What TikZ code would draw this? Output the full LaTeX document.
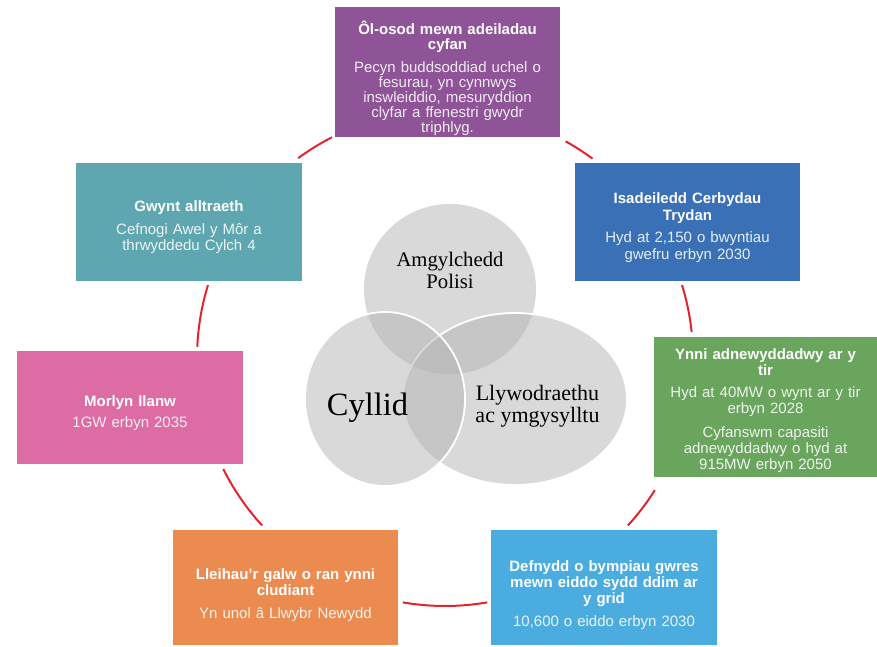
\documentclass[tikz,border=0pt]{standalone}
\usepackage{fontspec}
\setmainfont{Liberation Sans}
\newfontfamily\vennfont{Liberation Serif}
\definecolor{purpleC}{RGB}{143,84,151}
\definecolor{blueC}{RGB}{58,112,182}
\definecolor{greenC}{RGB}{106,165,94}
\definecolor{lblueC}{RGB}{75,172,223}
\definecolor{orangeC}{RGB}{235,139,80}
\definecolor{pinkC}{RGB}{220,108,163}
\definecolor{tealC}{RGB}{94,167,176}
\definecolor{ringred}{RGB}{229,35,45}
\definecolor{vgray}{RGB}{179,179,179}
\begin{document}
\begin{tikzpicture}[x=1pt,y=-1pt,
  card/.style={rectangle, fill=#1, draw=none, inner sep=0pt, outer sep=0pt},
  cardtext/.style={text=white, align=center, text width=218pt, inner sep=0pt,
    font=\fontsize{15}{16}\selectfont},
  body/.style={},
  ringarc/.style={draw=ringred, line width=2pt},
  vennshape/.style={fill=vgray, fill opacity=0.5, draw=white, line width=1.8pt},
  vlabel/.style={text=black, align=center, inner sep=0pt}
]
\useasboundingbox (0,0) rectangle (877,647);

% ring linking the seven cards
\coordinate (ring) at (445,358);
\draw[ringarc] ([shift={(117.1:248pt)}]ring) arc[start angle=117.1, end angle=126.3, radius=248pt];
\draw[ringarc] ([shift={(53.5:248pt)}]ring) arc[start angle=53.5, end angle=60.9, radius=248pt];
\draw[ringarc] ([shift={(6.0:248pt)}]ring) arc[start angle=6.0, end angle=17.1, radius=248pt];
\draw[ringarc] ([shift={(-42.5:248pt)}]ring) arc[start angle=-42.5, end angle=-32.2, radius=248pt];
\draw[ringarc] ([shift={(-99.8:248pt)}]ring) arc[start angle=-99.8, end angle=-80.2, radius=248pt];
\draw[ringarc] ([shift={(-153.4:248pt)}]ring) arc[start angle=-153.4, end angle=-137.5, radius=248pt];
\draw[ringarc] ([shift={(162.9:248pt)}]ring) arc[start angle=162.9, end angle=177.4, radius=248pt];

% Venn diagram in the middle
\coordinate (vtop) at (450,289);
\coordinate (vright) at (515,399);
\coordinate (vleft) at (385,399);
\draw[vennshape] (vtop) ellipse [x radius=87pt, y radius=86pt];
\draw[vennshape] (vright) ellipse [x radius=112pt, y radius=86pt];
\draw[vennshape] (vleft) ellipse [x radius=80pt, y radius=87pt];
\node[vlabel, font=\vennfont\fontsize{20.7}{21.5}\selectfont] (polisi) at (450,270.5) {Amgylchedd\\Polisi};
\node[vlabel, font=\vennfont\fontsize{32.5}{34}\selectfont, anchor=base] (cyllid) at (367.5,415) {Cyllid};
\node[vlabel, font=\vennfont\fontsize{22}{22}\selectfont] (llyw) at (537.5,406) {Llywodraethu\\ac ymgysylltu};

% cards
\node[card=purpleC, minimum width=225pt, minimum height=130pt] (purple) at (447.5,72) {};
\node[card=blueC, minimum width=225pt, minimum height=118pt] (blue) at (687.5,222) {};
\node[card=greenC, minimum width=223pt, minimum height=140pt] (green) at (765.5,407) {};
\node[card=lblueC, minimum width=226pt, minimum height=115pt] (lblue) at (604,587.5) {};
\node[card=orangeC, minimum width=225pt, minimum height=115pt] (orange) at (285.5,587.5) {};
\node[card=pinkC, minimum width=226pt, minimum height=113pt] (pink) at (130,407.5) {};
\node[card=tealC, minimum width=226pt, minimum height=118pt] (teal) at (189,222) {};

\node[cardtext, font=\fontsize{15}{15}\selectfont] (purple-t) at ([yshift=-6pt]purple.center)
  {{\bfseries Ôl-osod mewn adeiladau\\cyfan}\\[8pt]
   {\color{white!88!purpleC}Pecyn buddsoddiad uchel o\\fesurau, yn cynnwys\\inswleiddio, mesuryddion\\clyfar a ffenestri gwydr\\triphlyg.}};
\node[cardtext, font=\fontsize{15}{17}\selectfont] (blue-t) at ([yshift=-6pt]blue.center)
  {{\bfseries Isadeiledd Cerbydau\\Trydan}\\[5pt]
   {\color{white!88!blueC}Hyd at 2,150 o bwyntiau\\gwefru erbyn 2030}};
\node[cardtext] (green-t) at ([yshift=-3.5pt]green.center)
  {{\bfseries Ynni adnewyddadwy ar y\\tir}\\[6pt]
   {\color{white!88!greenC}Hyd at 40MW o wynt ar y tir\\erbyn 2028\\[8pt]
   Cyfanswm capasiti\\adnewyddadwy o hyd at\\915MW erbyn 2050}};
\node[cardtext] (lblue-t) at ([yshift=-7.5pt]lblue.center)
  {{\bfseries Defnydd o bympiau gwres\\mewn eiddo sydd ddim ar\\y grid}\\[7pt]
   {\color{white!88!lblueC}10,600 o eiddo erbyn 2030}};
\node[cardtext] (orange-t) at ([yshift=-7.5pt]orange.center)
  {{\bfseries Lleihau’r galw o ran ynni\\cludiant}\\[7pt]
   {\color{white!88!orangeC}Yn unol â Llwybr Newydd}};
\node[cardtext] (pink-t) at ([yshift=-5.5pt]pink.center)
  {{\bfseries Morlyn llanw}\\[5pt]
   {\color{white!88!pinkC}1GW erbyn 2035}};
\node[cardtext] (teal-t) at ([yshift=-5pt]teal.center)
  {{\bfseries Gwynt alltraeth}\\[7pt]
   {\color{white!88!tealC}Cefnogi Awel y Môr a\\thrwyddedu Cylch 4}};
\end{tikzpicture}
\end{document}
